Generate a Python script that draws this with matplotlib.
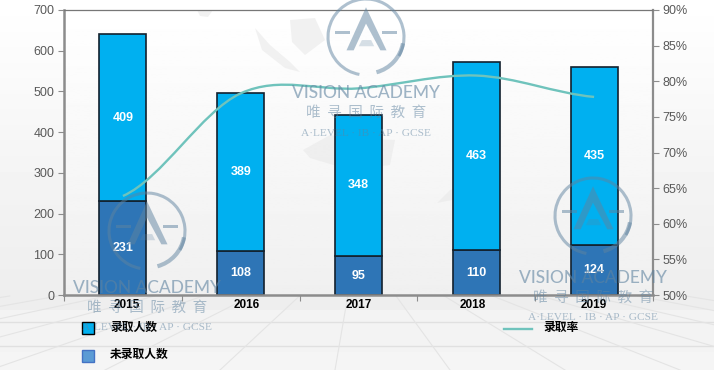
import matplotlib
matplotlib.use('Agg')
import matplotlib.pyplot as plt
import numpy as np
from matplotlib.patches import Rectangle, Polygon, Arc, PathPatch
from matplotlib.path import Path

plt.rcParams['font.family'] = ['Liberation Sans', 'Noto Sans CJK SC', 'DejaVu Sans']

# данные
years = ['2015', '2016', '2017', '2018', '2019']
admitted = [409, 389, 348, 463, 435]
rejected = [231, 108, 95, 110, 124]
rate = [63.9, 78.3, 79.0, 80.8, 77.8]
left_ticks = [0, 100, 200, 300, 400, 500, 600, 700]
right_ticks = [50, 55, 60, 65, 70, 75, 80, 85, 90]

W, H = 714, 370
fig = plt.figure(figsize=(W / 100, H / 100), dpi=100)


def box(x0, y0, x1, y1):
    # пиксели картинки -> доли фигуры
    return [x0 / W, 1 - y1 / H, (x1 - x0) / W, (y1 - y0) / H]


# фон: серый градиент и "пол" в перспективе
bg = fig.add_axes([0, 0, 1, 1], zorder=0)
grad = np.concatenate([np.linspace(1.0, 0.95, 200), np.linspace(0.95, 0.93, 110), np.linspace(0.95, 0.96, 60)])
bg.imshow(grad[:, None], extent=[0, W, H, 0], aspect='auto', cmap='gray', vmin=0, vmax=1)
for yy in [322, 346]:
    bg.plot([0, W], [yy, yy], color='#e0e0e0', lw=1.0)
for xb in np.arange(-700, 1500, 115):
    xt = 357 + (xb - 357) * 0.42
    bg.plot([xt, xb], [296, H], color='#e4e4e4', lw=0.8)
bg.set_xlim(0, W)
bg.set_ylim(H, 0)
bg.axis('off')

# основной график
ax = fig.add_axes(box(64, 10, 653, 295), zorder=2)
ax.imshow(np.linspace(1.0, 0.94, 100)[:, None], extent=[-0.5, 4.5, 0, 700], aspect='auto',
          cmap='gray', vmin=0, vmax=1, zorder=0)
# бледная карта за столбиками
for blob in [[(255, 28), (270, 45), (290, 62), (300, 72), (285, 68), (262, 50)],
             [(290, 20), (315, 18), (325, 40), (305, 55), (292, 42)],
             [(303, 150), (330, 135), (345, 138), (395, 140), (390, 165), (350, 170), (310, 158)],
             [(437, 203), (450, 190), (460, 187), (452, 200)],
             [(197, 10), (213, 10), (208, 17), (200, 16)]]:
    ax.add_patch(Polygon(blob, closed=True, transform=bg.transData, facecolor='#e9e9e9', alpha=0.6,
                         edgecolor='none', zorder=1))
pos = np.arange(len(years))
ax.bar(pos, rejected, width=0.4, color='#2E75B6', edgecolor='#13212e', linewidth=1.2, zorder=2)
ax.bar(pos, admitted, width=0.4, bottom=rejected, color='#00B0F0', edgecolor='#13212e', linewidth=1.2, zorder=2)
for i in pos:
    ax.text(i, rejected[i] / 2, str(rejected[i]), color='white', fontsize=9, fontweight='bold',
            ha='center', va='center', zorder=3)
    ax.text(i, rejected[i] + admitted[i] / 2, str(admitted[i]), color='white', fontsize=9, fontweight='bold',
            ha='center', va='center', zorder=3)
ax.set_xlim(-0.5, 4.5)
ax.set_ylim(0, 700)
ax.set_yticks(left_ticks)
ax.set_xticks(np.arange(-0.5, 5, 1))
ax.set_xticklabels([])
ax.tick_params(axis='y', labelsize=9, colors='#595959', length=4, color='#8c8c8c', pad=3)
ax.tick_params(axis='x', length=4, color='#8c8c8c')
for s in ['left', 'bottom']:
    ax.spines[s].set_color('#8c8c8c')
    ax.spines[s].set_linewidth(1.8)
ax.spines['top'].set_color('#777777')
ax.spines['top'].set_linewidth(0.9)
ax.spines['right'].set_color('#8c8c8c')
ax.spines['right'].set_linewidth(1.6)
# подписи лет в оригинале стоят не по центру столбиков
for i, dx in zip(pos, [3, 4.5, 0.5, -2.5, -0.5]):
    ax.annotate(years[i], (i, 0), xytext=(dx, -7.5), textcoords='offset points', ha='center', va='center',
                fontsize=8.5, fontweight='bold', color='black', annotation_clip=False)

# ось процентов и сглаженная линия
ax2 = ax.twinx()
ax2.set_ylim(50, 90)
ax2.set_yticks(right_ticks)
ax2.set_yticklabels([f'{v}%' for v in right_ticks])
ax2.tick_params(axis='y', labelsize=9, colors='#595959', length=4, color='#8c8c8c', pad=3)
for s in ax2.spines.values():
    s.set_visible(False)
verts = [(pos[0], rate[0])]
codes = [Path.MOVETO]
for i in range(len(rate) - 1):
    # контрольные точки Катмулла-Рома
    p0 = rate[max(i - 1, 0)]
    p1 = rate[i]
    p2 = rate[i + 1]
    p3 = rate[min(i + 2, len(rate) - 1)]
    verts += [(i + 1 / 3, p1 + (p2 - p0) / 6), (i + 2 / 3, p2 - (p3 - p1) / 6), (i + 1, p2)]
    codes += [Path.CURVE4] * 3
ax2.add_patch(PathPatch(Path(verts, codes), fill=False, edgecolor='#6FC3BC', linewidth=1.7, zorder=4))

# легенда и водяные знаки, координаты в пикселях
ov = fig.add_axes([0, 0, 1, 1], zorder=3)
ov.set_xlim(0, W)
ov.set_ylim(H, 0)
ov.axis('off')
ov.patch.set_alpha(0)
ov.add_patch(Rectangle((82, 322), 12, 12, facecolor='#00B0F0', edgecolor='black', lw=1))
ov.add_patch(Rectangle((82, 350), 12, 12, facecolor='#5B9BD5', edgecolor='#4472C4', lw=1))
ov.plot([504, 532], [329, 329], color='#6FC3BC', lw=1.7)
ov.text(110, 328, '录取人数', fontsize=8.5, fontweight='bold', va='center', color='black')
ov.text(110, 355, '未录取人数', fontsize=8.5, fontweight='bold', va='center', color='black')
ov.text(543, 328, '录取率', fontsize=8.5, fontweight='bold', va='center', color='black')

mark = '#5f83a0'


def watermark(cx, cy, r, ty):
    a = 0.5
    # кольцо с разрывом снизу, справа крыло толще
    ov.add_patch(Arc((cx, cy), 2 * r - 2, 2 * r - 2, theta1=100, theta2=30, color=mark, lw=2.2, alpha=a))
    ov.add_patch(Arc((cx + 1, cy), 2 * r - 5, 2 * r - 5, theta1=10, theta2=75, color=mark, lw=3, alpha=a))
    s = r / 38
    ov.add_patch(Polygon([(cx, cy - 29 * s), (cx + 20 * s, cy + 13 * s), (cx + 14 * s, cy + 13 * s), (cx, cy - 13 * s),
                          (cx - 12 * s, cy + 13 * s), (cx - 19 * s, cy + 13 * s)], color=mark, alpha=a, lw=0))
    ov.add_patch(Polygon([(cx - 4 * s, cy + 3 * s), (cx + 5 * s, cy + 3 * s), (cx + 8 * s, cy + 9 * s), (cx - 7 * s, cy + 9 * s)],
                         color=mark, alpha=a * 0.5, lw=0))
    ov.add_patch(Rectangle((cx - 30 * s, cy - 6 * s), 14 * s, 3 * s, color=mark, alpha=a, lw=0))
    ov.add_patch(Rectangle((cx + 16 * s, cy - 6 * s), 14 * s, 3 * s, color=mark, alpha=a, lw=0))
    ov.text(cx, ty, 'VISION ACADEMY', family='Lato', fontsize=12.5, fontweight='medium', color=mark, alpha=a + 0.1,
            ha='center', va='center')
    ov.text(cx, ty + 20, '唯  寻  国  际  教  育', family='Noto Sans CJK SC', fontsize=10.5, color=mark, alpha=a,
            ha='center', va='center')
    ov.text(cx, ty + 40, 'A·LEVEL · IB · AP · GCSE', family='Liberation Serif', fontsize=8.2, color=mark, alpha=a,
            ha='center', va='center')


watermark(366, 37, 39, 93)
watermark(147, 231, 39, 288)
watermark(593, 216, 39, 278)

fig.savefig('out.png', dpi=100)
